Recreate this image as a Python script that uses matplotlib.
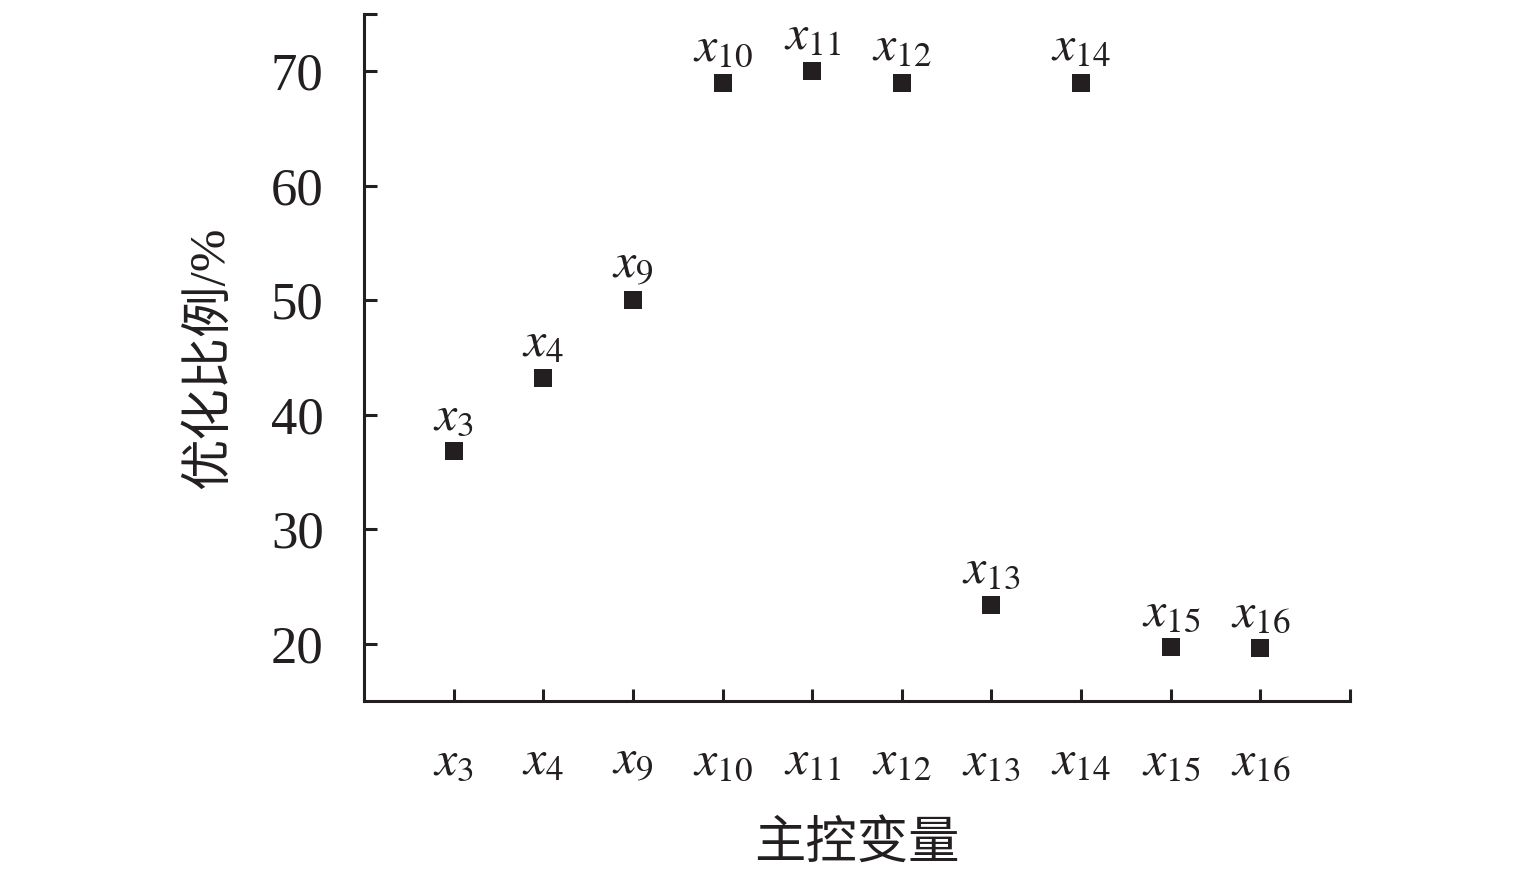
import matplotlib
matplotlib.use('Agg')
import matplotlib.pyplot as plt

plt.rcParams['font.family'] = ['Liberation Serif', 'Noto Sans CJK SC']
plt.rcParams['mathtext.fontset'] = 'stix'

names = ['3', '4', '9', '10', '11', '12', '13', '14', '15', '16']
ratio = [36.8, 43.2, 50.0, 69.0, 70.0, 69.0, 23.4, 69.0, 19.7, 19.6]
labels = [r'$x_{%s}$' % n for n in names]

fig = plt.figure(figsize=(15.35, 8.72), dpi=100)
ax = fig.add_axes([0.2371, 0.1961, 0.6424, 0.7879])

xs = list(range(len(names)))
ax.scatter(xs, ratio, marker='s', s=150, color='#231f20', zorder=3, linewidths=0)
for x, y, lab in zip(xs, ratio, labels):
    ax.annotate(lab, (x, y), xytext=(0, 8), textcoords='offset points',
                ha='center', va='bottom', fontsize=36, color='#231f20')

ax.set_xlim(-1, 10)
ax.set_ylim(15, 75)
ax.set_xticks(list(range(11)))
ax.set_xticklabels(labels + [''], fontsize=36)
ax.set_yticks([20, 30, 40, 50, 60, 70, 75])
ax.set_yticklabels(['20', '30', '40', '50', '60', '70', ''], fontsize=38)

for s in ['top', 'right']:
    ax.spines[s].set_visible(False)
for s in ['left', 'bottom']:
    ax.spines[s].set_linewidth(2.2)
    ax.spines[s].set_color('#231f20')
ax.tick_params(direction='in', length=9, width=2.2, colors='#231f20')
ax.tick_params(axis='x', pad=27)
ax.tick_params(axis='y', pad=29)

ax.set_xlabel('主控变量', fontsize=37, color='#231f20', va='center')
ax.xaxis.set_label_coords(0.5, -0.2096)
ax.set_ylabel('优化比例/%', fontsize=37, color='#231f20', va='center')
ax.yaxis.set_label_coords(-0.156, 0.5)

fig.savefig('out.png', dpi=100)
